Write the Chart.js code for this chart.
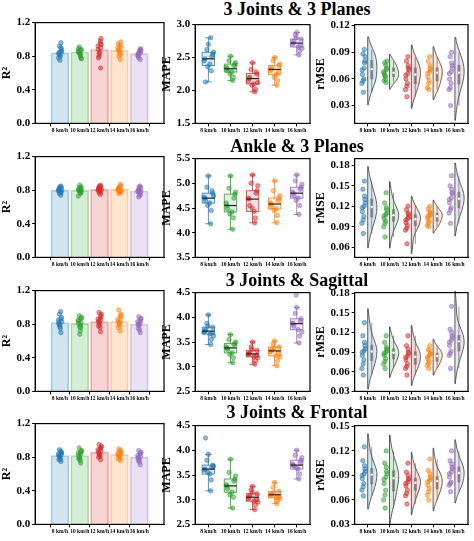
<!DOCTYPE html>
<html>
<head>
<meta charset="utf-8">
<script src="https://cdn.jsdelivr.net/npm/chart.js@4.4.0/dist/chart.umd.min.js"></script>
<style>
  body { margin: 0; background: #fff; width: 474px; height: 541px; position: relative; overflow: hidden; }
  canvas { position: absolute; }
  .title { position: absolute; left: 297px; transform: translateX(-50%); white-space: nowrap; background: #fff; z-index: 2;
           font: bold 18px "Liberation Serif", serif; line-height: 18px; padding: 0 2px; }
</style>
</head>
<body>
<div class="title" style="top:0px; background:none; z-index:0">3 Joints &amp; 3 Planes</div>
<div class="title" style="top:137px">Ankle &amp; 3 Planes</div>
<div class="title" style="top:271px">3 Joints &amp; Sagittal</div>
<div class="title" style="top:403px">3 Joints &amp; Frontal</div>
<script>
// categories and colors
const speeds = ['8 km/h', '10 km/h', '12 km/h', '14 km/h', '16 km/h'];
const colors = ['31,119,180', '44,160,44', '214,39,40', '255,127,14', '148,103,189'];
const jitter = [-0.12, 0.05, 0.15, -0.05, 0.1, -0.15, 0.0, 0.08, -0.1, 0.12, -0.02, 0.18];

// R² bars (means) and points, one entry per row
const r2Means = [
  [0.84, 0.85, 0.88, 0.87, 0.83],
  [0.80, 0.80, 0.81, 0.81, 0.79],
  [0.82, 0.81, 0.83, 0.83, 0.80],
  [0.82, 0.82, 0.86, 0.83, 0.80]
];
const r2Points = [
  [[.84,.80,.88,.92,.96,.78,.75,.86,.83,.90,.81,.85],
   [.85,.82,.88,.91,.78,.86,.84,.80,.89,.87,.83,.77],
   [.88,.95,1.01,.80,.66,.92,.85,.98,.78,.90,.83,.94],
   [.87,.93,.97,.80,.76,.90,.85,.84,.95,.82,.88,.91],
   [.83,.86,.89,.78,.76,.81,.85,.88,.80,.84,.82,.87]],
  [[.80,.78,.83,.76,.85,.79,.81,.74,.82,.77,.84,.80],
   [.80,.76,.84,.79,.82,.73,.86,.78,.81,.77,.83,.80],
   [.81,.79,.84,.77,.86,.80,.82,.75,.83,.78,.85,.81],
   [.81,.78,.85,.76,.87,.80,.83,.79,.82,.77,.84,.80],
   [.79,.75,.83,.72,.85,.78,.81,.74,.80,.77,.84,.79]],
  [[.82,.75,.88,.92,.70,.85,.79,.95,.80,.86,.77,.83],
   [.81,.72,.87,.90,.76,.84,.68,.79,.85,.82,.77,.88],
   [.83,.76,.90,.94,.71,.86,.80,.88,.78,.85,.82,.92],
   [.83,.78,.92,.97,.72,.86,.80,.89,.76,.85,.82,.90],
   [.80,.73,.86,.89,.70,.83,.78,.84,.75,.82,.79,.87]],
  [[.82,.78,.86,.89,.75,.84,.80,.87,.77,.83,.81,.85],
   [.82,.76,.88,.91,.73,.85,.79,.86,.78,.84,.80,.87],
   [.86,.81,.92,.95,.77,.89,.83,.90,.80,.87,.84,.93],
   [.83,.79,.87,.90,.76,.85,.81,.88,.78,.84,.82,.86],
   [.80,.74,.85,.88,.71,.82,.77,.84,.76,.81,.79,.86]]
];

// MAPE box stats: [min, q1, median, q3, max]
const mapeBoxes = [
  [[2.13,2.38,2.48,2.58,2.80],[2.15,2.28,2.33,2.40,2.52],[1.98,2.10,2.18,2.26,2.42],[2.08,2.24,2.32,2.38,2.50],[2.54,2.66,2.72,2.78,2.88]],
  [[4.18,4.60,4.70,4.80,5.15],[4.07,4.42,4.55,4.78,5.15],[4.20,4.43,4.68,4.85,5.17],[4.20,4.48,4.58,4.70,5.05],[4.37,4.70,4.80,4.92,5.17]],
  [[3.45,3.66,3.72,3.80,4.05],[3.08,3.28,3.38,3.47,3.65],[3.05,3.20,3.26,3.33,3.50],[3.02,3.22,3.32,3.40,3.52],[3.48,3.75,3.87,3.97,4.20]],
  [[3.18,3.52,3.62,3.70,3.92],[2.83,3.15,3.28,3.42,3.82],[2.80,2.97,3.05,3.12,3.27],[2.92,3.04,3.10,3.17,3.35],[3.42,3.62,3.70,3.80,4.00]]
];
const mapePoints = [
  [[2.48,2.40,2.55,2.62,2.30,2.45,2.70,2.80,2.13,2.52,2.36,2.58],
   [2.33,2.28,2.40,2.45,2.20,2.35,2.52,2.15,2.30,2.38,2.25,2.42],
   [2.18,2.10,2.25,2.32,2.02,2.15,2.42,1.98,2.20,2.28,2.08,2.12],
   [2.32,2.24,2.38,2.45,2.15,2.30,2.50,2.08,2.35,2.28,2.20,2.40],
   [2.72,2.66,2.78,2.84,2.60,2.70,2.88,2.54,2.75,2.68,2.80,2.64]],
  [[4.70,4.60,4.80,4.92,4.45,4.72,5.15,4.18,4.65,4.85,4.55,4.75],
   [4.55,4.42,4.78,4.90,4.30,4.60,5.15,4.07,4.48,4.70,4.38,4.82],
   [4.68,4.43,4.85,5.00,4.30,4.70,5.17,4.20,4.55,4.80,4.50,4.95],
   [4.58,4.48,4.70,4.85,4.35,4.60,5.05,4.20,4.52,4.65,4.45,4.75],
   [4.80,4.70,4.92,5.05,4.55,4.82,5.17,4.37,4.75,4.88,4.65,4.98]],
  [[3.72,3.66,3.80,3.88,3.55,3.70,4.05,3.45,3.75,3.68,3.82,3.62],
   [3.38,3.28,3.47,3.55,3.18,3.40,3.65,3.08,3.35,3.45,3.25,3.50],
   [3.26,3.20,3.33,3.40,3.12,3.25,3.50,3.05,3.28,3.22,3.35,3.18],
   [3.32,3.22,3.40,3.46,3.12,3.30,3.52,3.02,3.35,3.28,3.38,3.20],
   [3.87,3.75,3.97,4.08,3.62,3.88,4.20,3.48,3.82,3.92,4.45,3.70]],
  [[3.62,3.52,3.70,3.80,3.40,3.60,3.92,3.18,4.25,3.65,3.55,3.68],
   [3.28,3.15,3.42,3.55,3.05,3.30,3.82,2.83,3.22,3.38,3.10,3.48],
   [3.05,2.97,3.12,3.20,2.90,3.02,3.27,2.80,3.08,3.00,3.15,2.95],
   [3.10,3.04,3.17,3.25,2.98,3.08,3.35,2.92,3.12,3.06,3.14,3.02],
   [3.70,3.62,3.80,3.90,3.52,3.72,4.00,3.42,3.68,3.75,3.65,3.85]]
];

// rMSE points (violin shapes come from these)
const rmsePoints = [
  [[.070,.060,.080,.088,.093,.055,.045,.072,.065,.078,.058,.085],
   [.066,.060,.072,.078,.056,.068,.063,.075,.058,.070,.064,.080],
   [.064,.055,.072,.080,.085,.048,.040,.066,.060,.075,.052,.070],
   [.066,.058,.072,.080,.085,.050,.048,.068,.062,.075,.055,.070],
   [.066,.055,.075,.085,.090,.048,.030,.068,.060,.078,.050,.072]],
  [[.118,.105,.130,.145,.157,.095,.080,.120,.112,.135,.100,.125],
   [.106,.098,.115,.125,.140,.090,.075,.108,.102,.118,.095,.110],
   [.100,.092,.108,.115,.120,.085,.065,.102,.096,.110,.088,.104],
   [.105,.098,.110,.116,.120,.092,.090,.106,.102,.112,.096,.108],
   [.130,.118,.140,.150,.165,.110,.095,.132,.125,.145,.115,.138]],
  [[.090,.078,.100,.115,.135,.065,.055,.092,.085,.105,.072,.095],
   [.088,.080,.095,.105,.115,.072,.065,.090,.085,.098,.076,.092],
   [.082,.072,.090,.100,.115,.065,.055,.084,.078,.095,.068,.088],
   [.083,.076,.088,.094,.100,.070,.065,.085,.080,.092,.073,.087],
   [.105,.092,.115,.125,.160,.085,.065,.108,.100,.120,.088,.112]],
  [[.090,.080,.098,.108,.125,.072,.065,.092,.086,.102,.076,.095],
   [.085,.072,.095,.105,.120,.060,.050,.088,.080,.100,.066,.092],
   [.080,.072,.086,.094,.105,.065,.055,.082,.077,.090,.068,.085],
   [.082,.074,.088,.096,.110,.066,.060,.084,.078,.092,.070,.086],
   [.092,.082,.100,.108,.120,.078,.070,.094,.088,.104,.080,.098]]
];

// axis ranges and ticks per row
const r2Range = [0, 1.2], r2Ticks = [0, 0.4, 0.8, 1.2];
const mapeRanges = [[1.5, 3.0], [3.5, 5.5], [2.5, 4.5], [2.5, 4.5]];
const mapeTicks = [[1.5, 2.0, 2.5, 3.0], [3.5, 4.0, 4.5, 5.0, 5.5], [2.5, 3.0, 3.5, 4.0, 4.5], [2.5, 3.0, 3.5, 4.0, 4.5]];
const rmseRanges = [[0.01, 0.121], [0.045, 0.19], [0.03, 0.181], [0.03, 0.151]];
const rmseTicks = [[0.03, 0.06, 0.09, 0.12], [0.06, 0.09, 0.12, 0.15, 0.18], [0.03, 0.06, 0.09, 0.12, 0.15, 0.18], [0.03, 0.06, 0.09, 0.12, 0.15]];
const rowTops = [14, 148, 282, 415];

const serif = '"Liberation Serif", serif';

const framePlugin = {
  id: 'frame',
  afterDraw(chart) {
    const { ctx, chartArea: a } = chart;
    ctx.save();
    ctx.strokeStyle = '#000';
    ctx.lineWidth = 1.2;
    ctx.strokeRect(a.left, a.top, a.right - a.left, a.bottom - a.top);
    ctx.restore();
  }
};

// box plots for MAPE panels
const boxPlugin = {
  id: 'boxes',
  beforeDatasetsDraw(chart, args, opts) {
    if (!opts.stats) return;
    const { ctx } = chart;
    const xs = chart.scales.x, ys = chart.scales.y;
    opts.stats.forEach((s, i) => {
      const cx = xs.getPixelForValue(i);
      const hw = (xs.getPixelForValue(0.28) - xs.getPixelForValue(0));
      const [mn, q1, md, q3, mx] = s.map(v => ys.getPixelForValue(v));
      ctx.save();
      ctx.strokeStyle = 'rgba(' + colors[i] + ',0.8)';
      ctx.lineWidth = 1;
      ctx.fillStyle = 'rgba(' + colors[i] + ',0.15)';
      ctx.fillRect(cx - hw, q3, hw * 2, q1 - q3);
      ctx.strokeRect(cx - hw, q3, hw * 2, q1 - q3);
      ctx.beginPath();
      ctx.moveTo(cx, q3); ctx.lineTo(cx, mx);
      ctx.moveTo(cx, q1); ctx.lineTo(cx, mn);
      ctx.moveTo(cx - hw / 2, mx); ctx.lineTo(cx + hw / 2, mx);
      ctx.moveTo(cx - hw / 2, mn); ctx.lineTo(cx + hw / 2, mn);
      ctx.stroke();
      ctx.restore();
    });
  },
  afterDatasetsDraw(chart, args, opts) {
    if (!opts.stats) return;
    const { ctx } = chart;
    const xs = chart.scales.x, ys = chart.scales.y;
    opts.stats.forEach((s, i) => {
      const cx = xs.getPixelForValue(i);
      const hw = (xs.getPixelForValue(0.28) - xs.getPixelForValue(0));
      const y = ys.getPixelForValue(s[2]);
      ctx.save();
      ctx.strokeStyle = '#222';
      ctx.lineWidth = 1.2;
      ctx.beginPath(); ctx.moveTo(cx - hw, y); ctx.lineTo(cx + hw, y); ctx.stroke();
      ctx.restore();
    });
  }
};

function quantile(sorted, p) {
  const pos = (sorted.length - 1) * p, lo = Math.floor(pos), hi = Math.ceil(pos);
  return sorted[lo] + (sorted[hi] - sorted[lo]) * (pos - lo);
}

// half violins for rMSE panels (kernel density of the points)
const violinPlugin = {
  id: 'violins',
  beforeDatasetsDraw(chart, args, opts) {
    if (!opts.groups) return;
    const { ctx } = chart;
    const xs = chart.scales.x, ys = chart.scales.y;
    opts.groups.forEach((vals, i) => {
      const n = vals.length;
      const mean = vals.reduce((a, b) => a + b, 0) / n;
      const sd = Math.sqrt(vals.reduce((a, b) => a + (b - mean) ** 2, 0) / (n - 1));
      const bw = 1.06 * sd * Math.pow(n, -0.2);
      const lo = Math.min(...vals) - 1.5 * bw, hi = Math.max(...vals) + 1.5 * bw;
      const steps = 60, dens = [];
      for (let k = 0; k <= steps; k++) {
        const y = lo + (hi - lo) * k / steps;
        let d = 0;
        vals.forEach(v => { d += Math.exp(-0.5 * ((y - v) / bw) ** 2); });
        dens.push([y, d]);
      }
      const dmax = Math.max(...dens.map(d => d[1]));
      const cx = xs.getPixelForValue(i);
      const wmax = xs.getPixelForValue(0.42) - xs.getPixelForValue(0);
      ctx.save();
      ctx.beginPath();
      ctx.moveTo(cx, ys.getPixelForValue(lo));
      dens.forEach(([y, d]) => ctx.lineTo(cx + wmax * d / dmax, ys.getPixelForValue(y)));
      ctx.lineTo(cx, ys.getPixelForValue(hi));
      ctx.closePath();
      ctx.fillStyle = 'rgba(' + colors[i] + ',0.18)';
      ctx.fill();
      ctx.strokeStyle = '#333';
      ctx.lineWidth = 0.8;
      ctx.stroke();
      // inner mini box
      const s = vals.slice().sort((a, b) => a - b);
      const q1 = ys.getPixelForValue(quantile(s, 0.25)), q3 = ys.getPixelForValue(quantile(s, 0.75));
      const md = ys.getPixelForValue(quantile(s, 0.5));
      const bx = cx + 4;
      ctx.strokeStyle = 'rgba(90,90,90,0.8)';
      ctx.beginPath(); ctx.moveTo(bx, ys.getPixelForValue(s[0])); ctx.lineTo(bx, ys.getPixelForValue(s[n - 1])); ctx.stroke();
      ctx.fillStyle = 'rgba(110,110,110,0.7)';
      ctx.fillRect(bx - 1.5, q3, 3, q1 - q3);
      ctx.fillStyle = '#fff';
      ctx.beginPath(); ctx.arc(bx, md, 1.2, 0, Math.PI * 2); ctx.fill();
      ctx.restore();
    });
  }
};

Chart.register(framePlugin, boxPlugin, violinPlugin);

function pointSets(groups, offset, spread) {
  return groups.map((vals, i) => ({
    type: 'scatter',
    data: vals.map((v, k) => ({ x: i + offset + jitter[k] * spread, y: v })),
    backgroundColor: 'rgba(' + colors[i] + ',0.5)',
    borderColor: 'rgba(' + colors[i] + ',0.85)',
    borderWidth: 0.6,
    pointRadius: 2.2
  }));
}

function makeOptions(range, yTitle, ticks, digits, extra) {
  return {
    responsive: false,
    animation: false,
    layout: { padding: { top: 4, right: 6, left: 0, bottom: 0 } },
    plugins: Object.assign({ legend: { display: false }, tooltip: { enabled: false } }, extra),
    scales: {
      x: {
        type: 'linear', min: -0.6, max: 4.6,
        afterBuildTicks: ax => { ax.ticks = [0, 1, 2, 3, 4].map(v => ({ value: v })); },
        ticks: { callback: v => speeds[v], font: { family: serif, size: 5.5, weight: 'bold' }, color: '#000', maxRotation: 0, autoSkip: false, padding: 1 },
        grid: { drawOnChartArea: false, tickLength: 3, color: '#000' },
        border: { color: '#000' }
      },
      y: {
        min: range[0], max: range[1],
        afterBuildTicks: ax => { ax.ticks = ticks.map(v => ({ value: v })); },
        ticks: { autoSkip: false, callback: v => Number(v).toFixed(digits), font: { family: serif, size: 11, weight: 'bold' }, color: '#000', padding: 2 },
        grid: { drawOnChartArea: false, tickLength: 3, color: '#000' },
        border: { color: '#000' },
        title: { display: true, text: yTitle, font: { family: serif, size: 12, weight: 'bold' }, color: '#000', padding: 0 }
      }
    }
  };
}

function addCanvas(left, top, w, h) {
  const c = document.createElement('canvas');
  c.width = w; c.height = h;
  c.style.left = left + 'px'; c.style.top = top + 'px';
  document.body.appendChild(c);
  return c;
}

rowTops.forEach((top, r) => {
  // R² bars
  new Chart(addCanvas(0, top, 170, 121), {
    data: {
      datasets: [{
        type: 'bar',
        data: r2Means[r].map((v, i) => ({ x: i, y: v })),
        backgroundColor: colors.map(c => 'rgba(' + c + ',0.2)'),
        borderColor: colors.map(c => 'rgba(' + c + ',0.35)'),
        borderWidth: 1,
        barThickness: 18
      }].concat(pointSets(r2Points[r], 0, 0.5))
    },
    options: makeOptions(r2Range, 'R\u00B2', r2Ticks, 1, {})
  });

  // MAPE box plots
  new Chart(addCanvas(160, top + 2, 156, 119), {
    data: { datasets: pointSets(mapePoints[r], 0, 1.3) },
    options: makeOptions(mapeRanges[r], 'MAPE', mapeTicks[r], 1, { boxes: { stats: mapeBoxes[r] } })
  });

  // rMSE half violins
  new Chart(addCanvas(314, top + 2, 160, 119), {
    data: { datasets: pointSets(rmsePoints[r], -0.2, 0.45) },
    options: makeOptions(rmseRanges[r], 'rMSE', rmseTicks[r], 2, { violins: { groups: rmsePoints[r] } })
  });
});
</script>
</body>
</html>
